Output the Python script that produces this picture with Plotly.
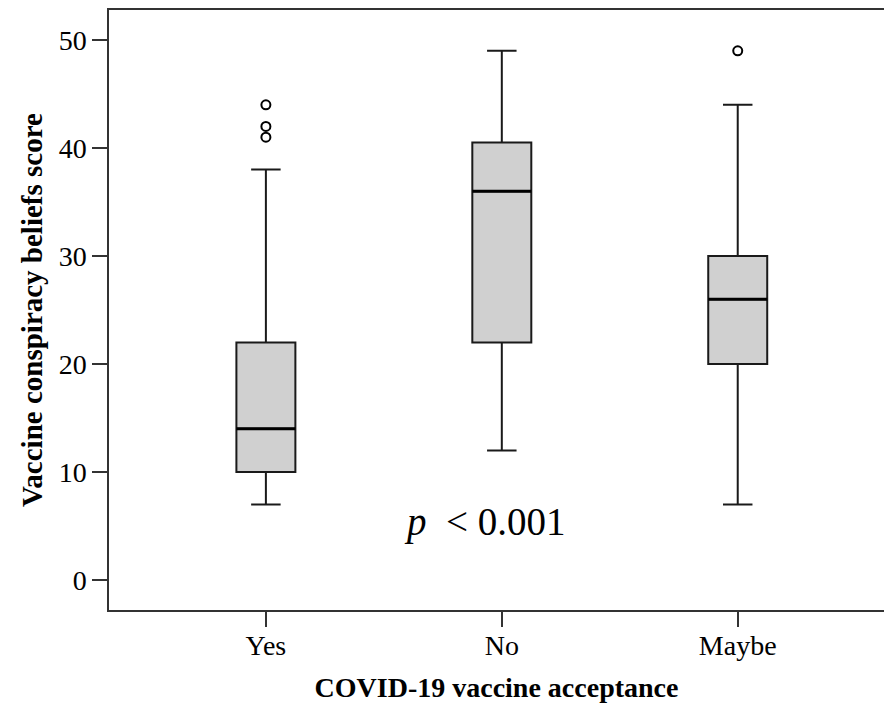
import plotly.graph_objects as go

categories = ["Yes", "No", "Maybe"]
q1 = [10, 22, 20]
median = [14, 36, 26]
q3 = [22, 40.5, 30]
lower = [7, 12, 7]
upper = [38, 49, 44]
outlier_cat = [0, 0, 0, 2]
outlier_val = [44, 42, 41, 49]
yticks = [0, 10, 20, 30, 40, 50]

FONT = "Liberation Serif"
pos = list(range(len(categories)))
bw = 0.25

fig = go.Figure()
fig.add_trace(go.Box(
    x=pos, q1=q1, median=median, q3=q3, lowerfence=lower, upperfence=upper,
    width=bw, whiskerwidth=0.5, fillcolor="#d0d0d0",
    line=dict(color="#1a1a1a", width=2), boxpoints=False, showlegend=False,
))
for i, m in zip(pos, median):
    fig.add_trace(go.Scatter(x=[i - bw / 2, i + bw / 2], y=[m, m], mode="lines",
                             line=dict(color="black", width=3), showlegend=False,
                             hoverinfo="skip"))
fig.add_trace(go.Scatter(x=outlier_cat, y=outlier_val, mode="markers",
                         marker=dict(symbol="circle-open", size=9, color="black",
                                     line=dict(width=2, color="black")),
                         showlegend=False))

fig.add_annotation(x=0.93, y=5.4, xref="x", yref="y", showarrow=False,
                   text="<i>p</i>  < 0.001",
                   font=dict(family=FONT, size=39, color="black"))

fig.update_layout(
    width=884, height=703,
    margin=dict(l=109, r=0, t=10, b=93),
    plot_bgcolor="white", paper_bgcolor="white",
    font=dict(family=FONT, color="black"),
    xaxis=dict(range=[-0.665, 2.62], tickvals=pos, ticktext=categories,
               showline=True, linecolor="#333333", linewidth=1.5, mirror=True,
               ticks="outside", ticklen=15, tickwidth=1.5, tickcolor="#333333",
               ticklabelstandoff=-5,
               tickfont=dict(family=FONT, size=28, color="black"),
               showgrid=False, zeroline=False,
               title=dict(text="<b>COVID-19 vaccine acceptance</b>",
                          font=dict(family=FONT, size=28, color="black"), standoff=20)),
    yaxis=dict(range=[-2.78, 52.78], tickvals=yticks,
               showline=True, linecolor="#333333", linewidth=1.5,
               ticks="outside", ticklen=15, tickwidth=1.5, tickcolor="#333333",
               tickfont=dict(family=FONT, size=28, color="black"),
               showgrid=False, zeroline=False,
               title=dict(text="<b>Vaccine conspiracy beliefs score</b>",
                          font=dict(family=FONT, size=29, color="black"), standoff=8)),
)

fig.write_html("out.html")
